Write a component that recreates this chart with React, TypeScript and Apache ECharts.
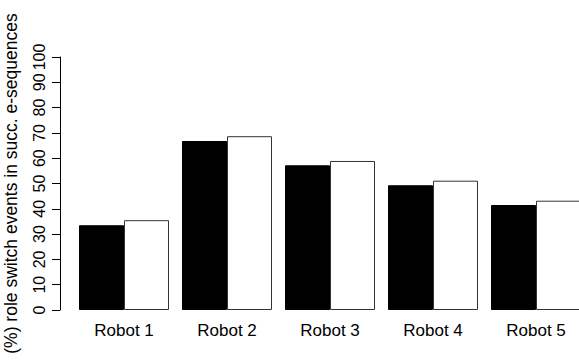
import React, { useEffect, useRef } from "react";
import * as echarts from "echarts";

const categories = ["Robot 1", "Robot 2", "Robot 3", "Robot 4", "Robot 5"];
const seriesBlack = [33.5, 66.8, 57.2, 49.3, 41.5];
const seriesWhite = [35.5, 68.7, 58.9, 51.1, 43.2];
const yTitle = "(%) role switch events in succ. e-sequences";

export default function App() {
  const ref = useRef<HTMLDivElement>(null);
  useEffect(() => {
    if (!ref.current) return;
    const chart = echarts.init(ref.current, null, { renderer: "svg" });
    const font = "Liberation Sans, Arial, sans-serif";
    chart.setOption({
      animation: false,
      backgroundColor: "#ffffff",
      textStyle: { fontFamily: font },
      grid: { left: 72.5, top: 57, width: 515, bottom: 50, outerBoundsMode: "none", containLabel: false },
      xAxis: {
        type: "category",
        data: categories,
        axisLine: { show: false },
        axisTick: { show: false },
        axisLabel: { color: "#000", fontSize: 17, margin: 12, fontFamily: font },
      },
      yAxis: {
        type: "value",
        min: 0,
        max: 100,
        interval: 10,
        offset: 12.5,
        splitLine: { show: false },
        axisLine: { show: true, lineStyle: { color: "#000", width: 1 } },
        axisTick: { show: true, length: 8, lineStyle: { color: "#000" } },
        axisLabel: { color: "#000", fontSize: 16, rotate: 90, margin: 13, fontFamily: font },
        name: yTitle,
        nameLocation: "middle",
        nameGap: 40,
        nameRotate: 90,
        nameTextStyle: { color: "#000", fontSize: 17.5, fontFamily: font },
      },
      series: [
        {
          type: "bar",
          data: seriesBlack,
          barWidth: 45,
          barGap: "0%",
          itemStyle: { color: "#000", borderColor: "#000", borderWidth: 1 },
        },
        {
          type: "bar",
          data: seriesWhite,
          barWidth: 45,
          itemStyle: { color: "#fff", borderColor: "#333", borderWidth: 1 },
        },
      ],
    });
    return () => chart.dispose();
  }, []);
  return <div ref={ref} style={{ width: 579, height: 360, position: "absolute", left: 0, top: 0 }} />;
}
